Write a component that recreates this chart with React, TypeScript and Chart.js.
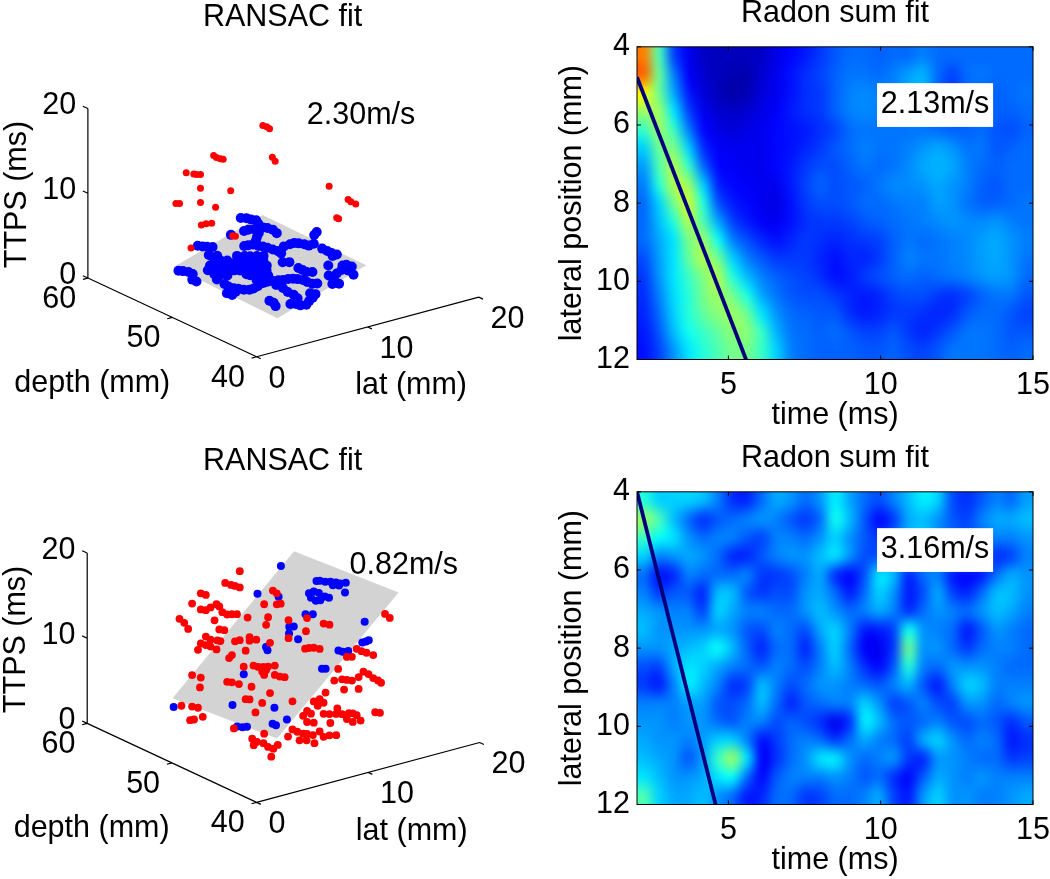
import React, { useEffect, useRef } from "react";
import { Chart, registerables } from "chart.js";
Chart.register(...registerables);

// [lat mm, depth mm, TTPS ms]
type P3 = number[];
const redTop: P3[] = [[7.7,49.4,20.2],[7.9,49.2,20.1],[8.0,49.0,19.9],[8.1,48.8,16.6],[8.2,48.6,16.2],[5.7,52.6,15.9],[5.8,52.4,15.7],[6.0,52.2,15.6],[6.1,52.0,15.6],[4.6,54.4,13.4],[4.9,53.9,13.4],[5.0,53.7,13.4],[5.2,53.5,13.4],[5.2,53.5,11.8],[6.4,51.5,12.0],[5.2,53.5,10.1],[5.8,52.5,9.8],[4.2,55.1,9.6],[4.3,54.8,9.7],[5.2,53.4,7.5],[5.4,53.1,7.7],[5.6,52.7,7.9],[10.4,45.1,14.1],[11.2,43.9,12.8],[11.3,43.7,12.6],[11.5,43.4,12.4],[10.7,44.6,10.5],[10.8,44.5,10.4],[6.5,51.4,6.7],[6.6,51.2,6.7],[4.8,54.1,4.6]];
const blueTop: P3[] = [[10.8,56.1,5.1],[11.0,55.7,5.2],[11.1,55.3,5.2],[11.2,54.8,5.3],[11.0,54.3,5.2],[10.9,53.6,5.1],[11.0,53.2,5.2],[11.1,52.7,5.2],[11.0,52.1,5.1],[9.8,54.4,4.7],[10.1,54.3,4.8],[10.4,54.0,4.9],[10.3,53.3,4.8],[9.9,53.0,4.6],[9.0,54.9,4.3],[6.7,55.8,3.4],[6.9,55.5,3.4],[7.0,55.1,3.5],[7.2,54.7,3.6],[6.4,54.1,3.2],[8.6,52.8,4.1],[8.8,52.6,4.2],[9.1,52.4,4.3],[9.2,51.9,4.3],[9.3,51.5,4.4],[9.4,51.1,4.4],[9.5,50.6,4.4],[9.6,50.1,4.4],[9.5,49.6,4.4],[9.5,52.6,4.5],[10.2,50.2,4.7],[10.6,50.0,4.9],[10.9,49.9,5.0],[11.0,49.5,5.1],[11.2,49.1,5.1],[11.3,48.7,5.1],[11.6,48.5,5.3],[12.4,49.5,5.6],[12.7,49.6,5.8],[11.6,47.5,5.2],[11.6,46.9,5.2],[11.6,46.4,5.2],[11.7,45.9,5.2],[11.4,46.0,5.1],[6.2,53.2,3.1],[6.4,52.7,3.2],[6.7,52.3,3.3],[7.1,51.7,3.4],[7.4,51.2,3.5],[7.6,50.8,3.6],[7.9,50.4,3.7],[8.2,50.0,3.8],[5.6,52.9,2.8],[5.8,52.5,2.9],[6.1,52.1,3.0],[6.4,51.7,3.1],[6.6,51.2,3.2],[6.9,50.8,3.3],[7.2,50.4,3.4],[7.4,50.0,3.5],[7.7,49.5,3.6],[7.9,49.2,3.7],[5.1,52.5,2.6],[5.4,52.1,2.7],[5.6,51.7,2.8],[5.9,51.2,2.9],[6.2,50.8,3.0],[6.4,50.4,3.1],[6.7,50.0,3.2],[7.0,49.5,3.3],[7.2,49.1,3.4],[7.5,48.7,3.5],[6.4,49.2,3.1],[6.7,48.8,3.2],[7.0,48.4,3.3],[7.2,48.1,3.3],[6.3,48.3,3.0],[6.6,47.8,3.1],[8.8,48.5,4.1],[9.1,48.1,4.2],[9.0,46.9,4.1],[9.0,46.4,4.1],[9.0,45.9,4.1],[9.2,45.5,4.2],[10.4,45.2,4.7],[11.0,44.3,4.9],[11.2,44.1,5.0],[11.3,43.6,5.0],[10.8,43.4,4.8],[10.6,43.9,4.7],[10.1,43.8,4.5],[9.7,43.6,4.3],[9.6,44.1,4.3],[9.1,43.0,4.0],[9.4,42.6,4.1],[10.7,42.6,4.7],[3.9,54.4,2.1],[4.0,54.0,2.2],[4.2,53.6,2.2],[4.2,53.1,2.2],[3.7,52.5,2.0],[3.7,52.0,2.0],[4.7,50.9,2.4],[4.7,50.0,2.3],[4.6,49.4,2.3],[4.7,48.9,2.3],[4.8,48.5,2.4],[5.0,48.1,2.4],[5.2,47.7,2.5],[5.5,47.6,2.6],[5.8,47.5,2.8],[6.3,47.5,3.0],[6.6,47.4,3.1],[6.9,47.1,3.2],[7.2,46.9,3.3],[7.4,46.6,3.4],[7.7,46.4,3.5],[7.9,46.1,3.6],[8.0,45.7,3.7],[8.2,45.3,3.7],[8.2,44.8,3.7],[8.3,44.3,3.7],[8.5,44.0,3.8],[6.7,46.5,3.1],[4.0,48.8,2.0],[4.1,48.3,2.0],[4.5,48.4,2.2],[6.7,45.7,3.1],[6.6,45.0,3.0],[6.6,44.3,3.0],[6.5,43.7,2.9],[7.4,43.4,3.3],[7.5,42.9,3.4],[7.1,42.7,3.2],[6.7,42.6,3.0],[6.3,42.4,2.8],[6.0,42.7,2.7],[5.9,43.1,2.7],[5.7,43.5,2.6],[5.1,45.2,2.4],[5.1,44.7,2.4],[4.9,44.2,2.3],[7.5,52.2,3.6],[7.8,51.7,3.7],[8.0,51.3,3.8],[8.3,50.9,3.9],[8.6,50.5,4.0],[6.7,53.5,3.3],[5.0,51.6,2.6],[5.2,51.2,2.6],[5.5,50.7,2.7],[6.3,49.5,3.1]];
const blueBottom: P3[] = [[3.5,54.4,3.3],[4.9,49.3,5.4],[6.9,50.6,7.7],[5.7,45.4,6.6],[5.3,43.4,6.3],[4.7,44.3,5.6],[4.7,43.9,5.6],[3.9,46.8,4.3],[4.0,46.4,4.5],[3.8,47.3,4.2],[8.9,50.6,10.2],[8.8,50.3,10.0],[12.0,53.2,13.8],[11.7,55.3,13.3],[13.8,55.3,15.8],[13.8,51.1,16.0],[13.8,50.7,16.2],[13.9,50.2,16.3],[14.0,49.7,16.5],[14.1,49.2,16.6],[14.1,48.7,16.7],[14.3,48.3,16.9],[13.9,49.3,16.3],[14.0,48.7,16.5],[12.9,50.8,15.0],[13.1,50.5,15.3],[13.1,49.9,15.4],[12.7,50.3,14.8],[12.6,49.6,14.8],[12.7,49.2,15.0],[13.1,49.2,15.3],[13.1,48.7,15.4],[13.7,47.6,16.3],[11.6,49.5,13.6],[11.8,48.9,13.8],[10.6,50.1,12.2],[10.7,49.7,12.4],[10.2,49.6,11.8],[10.1,48.4,11.7],[12.5,43.7,15.1],[11.3,42.4,13.7],[11.4,42.1,13.9],[11.5,41.9,14.1],[10.3,43.9,12.4],[10.3,43.4,12.5],[10.5,43.0,12.7],[8.9,44.0,10.7],[9.0,43.7,10.8]];
const redBottom: P3[] = [[7.3,51.6,19.2],[6.6,52.4,17.7],[6.9,52.1,17.5],[7.1,51.9,17.4],[7.3,51.6,17.3],[5.4,53.7,16.3],[5.7,53.5,16.1],[5.0,54.2,15.0],[5.4,53.7,14.4],[5.7,53.5,14.3],[5.9,53.2,14.7],[6.2,52.9,15.1],[6.3,52.7,14.9],[6.5,52.6,14.2],[6.7,52.3,14.0],[6.9,52.0,14.1],[7.2,51.8,14.1],[6.1,53.0,13.2],[4.4,54.9,13.1],[4.6,54.6,12.7],[4.8,54.4,12.0],[6.3,52.7,12.2],[6.6,52.5,12.1],[7.7,51.2,13.8],[8.7,50.1,14.0],[8.6,50.2,13.1],[8.5,50.3,15.5],[9.1,49.6,15.6],[9.3,49.4,15.7],[8.9,49.8,17.2],[9.1,49.6,16.9],[9.7,49.0,13.8],[10.6,48.0,14.2],[11.4,47.1,13.7],[11.7,46.8,13.6],[10.5,48.0,12.7],[5.7,53.5,11.2],[5.9,53.2,10.9],[6.2,52.8,10.9],[5.4,53.7,10.4],[5.7,53.5,10.2],[5.9,53.2,10.1],[6.2,52.9,9.8],[6.4,52.7,10.8],[7.1,51.9,10.9],[7.3,51.6,11.1],[7.8,51.1,11.5],[7.8,51.1,11.1],[8.1,50.7,11.3],[8.8,50.0,11.0],[9.7,49.0,11.7],[7.6,51.3,9.9],[6.9,52.0,9.3],[6.8,52.2,8.9],[10.5,48.1,10.6],[10.7,47.9,10.7],[10.9,47.6,10.8],[11.2,47.3,10.7],[8.0,50.9,8.2],[8.2,50.6,8.1],[8.5,50.4,8.1],[8.7,50.1,8.2],[9.0,49.7,8.4],[8.4,50.4,7.6],[8.6,50.2,7.8],[8.5,50.3,7.2],[7.5,51.4,8.0],[5.0,54.2,6.6],[5.3,53.9,9.6],[5.4,53.7,6.4],[5.4,53.8,5.2],[6.7,52.3,6.1],[6.9,52.0,6.1],[7.3,51.7,5.9],[7.9,51.0,5.7],[9.0,49.7,7.3],[9.3,49.5,7.1],[9.5,49.2,7.1],[8.8,50.0,5.1],[7.6,51.3,4.2],[7.8,51.1,4.2],[8.4,50.4,3.9],[9.9,48.8,4.3],[8.1,50.8,2.7],[14.4,43.8,15.3],[14.6,43.5,14.9],[13.0,45.3,11.0],[13.2,45.0,10.8],[13.5,44.8,10.6],[13.8,44.4,10.4],[12.5,45.8,10.0],[12.8,45.6,10.0],[12.1,46.3,8.5],[13.3,44.9,8.4],[13.6,44.7,8.1],[13.8,44.4,7.7],[14.0,44.1,7.5],[14.2,44.0,7.2],[13.1,45.2,7.7],[11.9,46.5,7.1],[12.3,46.1,7.3],[12.5,45.8,7.3],[12.8,45.6,7.2],[12.4,46.0,6.1],[13.1,45.2,6.3],[11.5,47.0,5.6],[10.9,47.6,4.5],[11.2,47.3,4.8],[11.4,47.1,4.4],[11.1,47.4,4.0],[4.5,54.8,2.9],[5.0,54.2,2.9],[5.3,53.9,2.8],[4.9,54.3,1.3],[5.1,54.1,1.4],[5.5,53.6,1.8],[12.1,46.4,3.8],[11.4,47.1,3.1],[11.7,46.8,3.1],[12.0,46.4,3.2],[12.3,46.1,3.2],[12.6,45.7,3.4],[12.8,45.5,3.4],[13.0,45.3,3.2],[12.5,45.8,2.7],[12.8,45.5,2.4],[13.2,45.1,2.6],[13.9,44.3,3.7],[14.1,44.0,3.7],[10.6,48.0,3.3],[10.8,47.8,3.0],[10.4,48.2,2.7],[10.6,48.0,2.0],[10.9,47.6,2.0],[11.7,46.7,2.1],[9.9,48.8,1.0],[10.1,48.5,0.8],[10.4,48.2,0.6],[10.6,48.0,0.6],[10.9,47.7,0.5],[9.5,48.8,0.3],[9.7,47.7,0.3],[10.1,47.4,0.3],[10.2,46.6,0.3],[11.2,47.3,1.0],[11.4,47.1,0.4],[11.7,46.8,0.6],[12.0,46.4,0.7],[7.0,51.9,0.7],[8.5,50.3,0.3],[7.2,50.0,0.3],[7.1,49.3,0.3],[7.3,48.8,0.3],[7.1,48.0,0.3],[7.2,47.5,0.3],[6.5,48.9,0.3],[7.9,47.9,0.3],[6.1,46.3,0.3]];
const planeTop: P3[] = [[4,42.8,1.84],[12,42.8,5.27],[12,55.1,5.5],[4,55.1,2.18],[4,42.8,1.84]];
const planeBottom: P3[] = [[4,42.85,4.76],[14.9,42.85,18.1],[14.9,55.2,17.2],[4,55.2,3.78],[4,42.85,4.76]];
const latTicks = [0, 10, 20];
const depthTicks = [40, 50, 60];
const ttpsTicks = [0, 10, 20];

const heatTop: number[][] = [
[72,42,16,8,4,3,3,3,4,7,10,12,15,18,20,20,19,20,20,22,20,20,20,20,20,20,20],
[75,45,22,9,5,3,2,2,5,8,11,14,16,19,21,21,20,22,25,27,20,16,20,21,20,20,20],
[60,45,26,12,6,3,1,2,6,8,11,14,15,19,22,23,22,22,26,27,19,15,20,20,19,20,21],
[50,50,32,16,8,5,4,5,7,9,12,14,15,19,22,23,22,22,23,23,20,18,20,20,19,19,20],
[40,50,40,22,10,7,6,7,8,10,11,12,14,16,20,21,21,21,21,21,20,19,19,20,18,17,19],
[30,45,47,30,14,9,8,8,8,10,11,13,15,18,20,22,21,21,22,24,26,24,21,21,18,19,20],
[25,42,52,40,20,10,9,8,8,10,12,15,17,17,19,21,20,21,23,26,27,26,22,20,19,20,20],
[22,38,52,50,30,13,10,9,8,8,12,16,19,17,18,19,21,23,23,24,26,24,22,19,18,20,20],
[20,30,46,55,38,18,12,10,8,7,11,15,17,17,18,20,20,21,22,22,25,24,21,19,19,20,21],
[20,28,38,52,42,26,16,12,9,8,11,14,15,15,16,18,19,20,21,22,23,24,23,23,24,22,21],
[20,26,32,46,50,36,22,17,13,11,13,15,14,13,14,15,16,19,21,20,21,22,23,25,26,24,22],
[17,25,32,44,52,46,30,22,18,15,15,15,13,11,13,13,15,19,22,21,21,22,23,25,26,24,21],
[15,24,32,40,47,52,38,28,22,19,17,16,14,11,12,15,17,19,20,19,20,21,22,24,25,24,20],
[14,22,31,38,46,50,46,37,26,21,18,17,17,15,13,12,13,16,17,17,15,14,16,19,21,21,18],
[13,20,30,38,44,48,50,45,32,24,20,19,18,18,14,12,13,15,15,14,13,14,18,20,20,18,16],
[12,18,28,36,40,44,48,48,40,27,21,20,19,20,18,16,16,18,15,13,15,18,21,21,20,18,18],
[11,16,24,32,38,42,46,46,40,30,22,20,19,19,19,18,18,19,17,16,18,21,21,21,20,19,20],
];
const heatBottom: number[][] = [
[38,30,30,30,28,22,14,13,20,26,24,20,24,33,26,20,17,22,28,33,30,17,14,18,22,20,25],
[50,42,28,20,14,18,20,22,24,22,18,15,20,36,28,18,10,15,26,28,24,18,16,22,26,26,28],
[40,35,32,24,20,22,22,18,16,22,22,20,24,30,24,18,15,20,27,30,24,20,18,20,22,22,24],
[30,22,24,26,24,20,13,13,18,22,24,24,28,32,24,17,18,22,24,24,26,22,22,18,14,16,22],
[20,11,13,22,20,20,20,22,15,15,17,22,26,14,10,17,32,28,13,20,22,12,10,12,20,26,24],
[22,15,18,18,13,28,28,18,15,17,17,24,26,20,12,20,30,24,12,17,26,16,13,20,28,28,24],
[26,24,22,22,16,30,26,22,22,20,20,24,28,24,20,22,26,22,14,20,24,22,20,24,28,26,22],
[28,24,24,24,24,26,24,18,17,22,20,17,26,30,22,12,12,16,36,24,22,20,12,18,24,22,20],
[24,24,26,28,30,35,28,19,13,20,20,13,22,30,20,9,8,15,45,24,24,20,15,20,22,22,20],
[17,16,26,32,30,26,22,20,18,22,20,17,22,28,22,14,10,18,38,22,20,24,24,24,22,20,20],
[15,12,22,33,28,22,14,16,28,22,17,20,24,24,22,20,18,22,27,18,12,22,30,28,22,22,22],
[22,22,22,25,25,18,17,20,28,20,13,18,20,22,22,30,24,16,18,22,17,16,24,24,20,22,24],
[24,24,22,24,24,20,18,22,22,17,19,17,14,8,14,33,28,20,18,20,22,18,17,20,18,14,18],
[26,24,24,22,25,30,30,22,11,15,20,22,20,15,20,26,22,20,16,26,30,24,20,22,20,12,14],
[28,26,24,18,25,40,50,32,9,14,20,24,32,33,24,20,22,24,15,13,24,24,22,20,20,15,16],
[32,28,24,24,26,32,35,20,10,18,22,22,22,24,22,18,20,14,10,18,26,24,22,24,22,22,22],
[42,30,26,26,28,24,20,12,13,20,20,15,16,20,20,22,26,16,12,24,30,24,24,22,22,24,26],
];
const fitTop = { time: [2, 5.58], lateral: [4.78, 12] };
const fitBottom = { time: [2, 4.58], lateral: [4, 12] };

const FONT_SIZE = 30.5;
const FONT = `${FONT_SIZE}px 'Liberation Sans'`;
const NAVY = "#00007f";

// fixed view of the 3-D axes box
const project = ([lat, depth, t]: P3) => ({
  x: 256.5 + 11.325 * lat - 8.6 * (depth - 40),
  y: 360 - 3.05 * lat - 4.025 * (depth - 40) - 8.675 * t,
});

function jet(v: number): number[] {
  const c = (x: number) => Math.max(0, Math.min(1, x));
  return [c(Math.min(4 * v - 1.5, -4 * v + 4.5)), c(Math.min(4 * v - 0.5, -4 * v + 3.5)), c(Math.min(4 * v + 0.5, -4 * v + 2.5))].map((a) => Math.round(a * 255));
}

function axes3d(): any[] {
  const out: any[] = [];
  const seg = (a: P3, b: P3) => out.push(project(a), project(b), { x: NaN, y: NaN });
  seg([0, 60, 0], [0, 60, 20]);
  seg([0, 60, 0], [0, 40, 0]);
  seg([0, 40, 0], [20, 40, 0]);
  ttpsTicks.forEach((t) => seg([0, 60, t], [0, 60.6, t]));
  depthTicks.forEach((d) => seg([0, d, 0], [-0.45, d, 0]));
  latTicks.forEach((l) => seg([l, 40, 0], [l, 39.5, 0]));
  return out;
}

function make3d(canvas: HTMLCanvasElement, red: P3[], blue: P3[], plane: P3[], speed: string, speedPos: number[], redR: number, blueR: number) {
  const text3d = {
    id: "text3d",
    afterDraw(chart: any) {
      const { ctx, scales } = chart;
      const X = (v: number) => scales.x.getPixelForValue(v);
      const Y = (v: number) => scales.y.getPixelForValue(v);
      const put = (s: string, x: number, y: number, align: CanvasTextAlign = "center") => {
        ctx.textAlign = align;
        ctx.fillText(s, X(x), Y(y));
      };
      ctx.save();
      ctx.font = FONT;
      ctx.fillStyle = "#000";
      ctx.textBaseline = "middle";
      put("RANSAC fit", 283, 13);
      put(speed, speedPos[0], speedPos[1]);
      ttpsTicks.forEach((t) => { const p = project([0, 60, t]); put(String(t), p.x - 12, p.y - 3, "right"); });
      depthTicks.forEach((d) => { const p = project([0, d, 0]); put(String(d), p.x - 12, p.y + 22, "right"); });
      latTicks.forEach((l) => { const p = project([l, 40, 0]); put(String(l), p.x + 12, p.y + 23, "left"); });
      put("depth (mm)", 89, 387);
      put("lat (mm)", 414, 390);
      ctx.save();
      ctx.translate(X(13), Y(194));
      ctx.rotate(-Math.PI / 2);
      ctx.textAlign = "center";
      ctx.fillText("TTPS (ms)", 0, 0);
      ctx.restore();
      ctx.restore();
    },
  };
  return new Chart(canvas, {
    type: "scatter",
    data: {
      datasets: [
        { data: red.map(project), backgroundColor: "#ff0000", borderWidth: 0, pointRadius: redR },
        { data: blue.map(project), backgroundColor: "#0000ff", borderWidth: 0, pointRadius: blueR },
        { data: plane.map(project), showLine: true, fill: "shape", backgroundColor: "#d3d3d3", borderWidth: 0, borderColor: "#d3d3d3", pointRadius: 0 },
        { data: axes3d(), showLine: true, spanGaps: false, borderColor: "#000", borderWidth: 1.2, pointRadius: 0 },
      ] as any,
    },
    options: {
      animation: false,
      responsive: false,
      layout: { padding: 0 },
      plugins: { legend: { display: false }, tooltip: { enabled: false } },
      scales: {
        x: { type: "linear", min: 0, max: 525, display: false },
        y: { type: "linear", min: 0, max: 435, reverse: true, display: false },
      },
    },
    plugins: [text3d],
  } as any);
}

function makeHeat(canvas: HTMLCanvasElement, grid: number[][], fit: { time: number[]; lateral: number[] }, speed: string) {
  const heat = {
    id: "heat",
    beforeDatasetsDraw(chart: any) {
      const { ctx, scales } = chart;
      const rows = grid.length, cols = grid[0].length;
      const off = document.createElement("canvas");
      off.width = cols; off.height = rows;
      const oc = off.getContext("2d")!;
      const img = oc.createImageData(cols, rows);
      grid.forEach((row, r) => row.forEach((v, c) => {
        const [R, G, B] = jet((v + 3) / 100);
        const i = (r * cols + c) * 4;
        img.data[i] = R; img.data[i + 1] = G; img.data[i + 2] = B; img.data[i + 3] = 255;
      }));
      oc.putImageData(img, 0, 0);
      ctx.save();
      ctx.imageSmoothingEnabled = true;
      ctx.imageSmoothingQuality = "high";
      const x0 = scales.x.getPixelForValue(2), x1 = scales.x.getPixelForValue(15);
      const y0 = scales.y.getPixelForValue(4), y1 = scales.y.getPixelForValue(12);
      ctx.drawImage(off, x0, y0, x1 - x0, y1 - y0);
      ctx.restore();
    },
    afterDatasetsDraw(chart: any) {
      const { ctx, scales, chartArea: a } = chart;
      ctx.save();
      ctx.strokeStyle = "#000";
      ctx.lineWidth = 1;
      ctx.strokeRect(a.left, a.top, a.right - a.left, a.bottom - a.top);
      ctx.beginPath();
      scales.x.ticks.forEach((t: any) => {
        const x = scales.x.getPixelForValue(t.value);
        ctx.moveTo(x, a.top); ctx.lineTo(x, a.top + 4);
        ctx.moveTo(x, a.bottom); ctx.lineTo(x, a.bottom - 4);
      });
      scales.y.ticks.forEach((t: any) => {
        const y = scales.y.getPixelForValue(t.value);
        ctx.moveTo(a.left, y); ctx.lineTo(a.left + 4, y);
        ctx.moveTo(a.right, y); ctx.lineTo(a.right - 4, y);
      });
      ctx.stroke();
      const bx0 = scales.x.getPixelForValue(9.88), bx1 = scales.x.getPixelForValue(13.69);
      const by0 = scales.y.getPixelForValue(4.93), by1 = scales.y.getPixelForValue(6.05);
      ctx.fillStyle = "#fff";
      ctx.fillRect(bx0, by0, bx1 - bx0, by1 - by0);
      ctx.fillStyle = "#000";
      ctx.font = FONT;
      ctx.textAlign = "center";
      ctx.textBaseline = "middle";
      ctx.fillText(speed, (bx0 + bx1) / 2, (by0 + by1) / 2);
      ctx.restore();
    },
  };
  const font = { family: "'Liberation Sans'", size: FONT_SIZE };
  return new Chart(canvas, {
    type: "scatter",
    data: {
      datasets: [{
        data: fit.time.map((t, i) => ({ x: t, y: fit.lateral[i] })),
        showLine: true, borderColor: NAVY, borderWidth: 3.8, pointRadius: 0,
      }],
    },
    options: {
      animation: false,
      responsive: false,
      layout: { padding: { right: 17, left: 0, top: 0, bottom: 0 } },
      plugins: {
        legend: { display: false },
        tooltip: { enabled: false },
        title: { display: true, fullSize: false, text: "Radon sum fit", color: "#000", font: { ...font, weight: "normal", lineHeight: 26 / FONT_SIZE }, padding: { top: 1, bottom: 19.8 } },
      },
      scales: {
        x: {
          type: "linear", min: 2, max: 15,
          afterBuildTicks: (s: any) => { s.ticks = [5, 10, 15].map((value) => ({ value })); },
          afterFit: (s: any) => { s.height = 80.5; s.paddingRight = 0; s.paddingLeft = 0; },
          grid: { display: false, drawTicks: false },
          border: { display: false },
          ticks: { color: "#000", font, padding: 8, maxRotation: 0, autoSkip: false },
          title: { display: true, text: "time (ms)", color: "#000", font, padding: { top: 0, bottom: 6 } },
        },
        y: {
          type: "linear", min: 4, max: 12, reverse: true,
          afterFit: (s: any) => { s.width = 112; s.paddingTop = 0; s.paddingBottom = 0; },
          grid: { display: false, drawTicks: false },
          border: { display: false },
          ticks: { color: "#000", font, padding: 7, stepSize: 2 },
          title: { display: true, text: "lateral position (mm)", color: "#000", font, padding: { top: 29, bottom: 0 } },
        },
      },
    },
    plugins: [heat],
  } as any);
}

const boxStyle = (left: number, top: number): React.CSSProperties => ({ position: "absolute", left, top });

export default function App() {
  const a = useRef<HTMLCanvasElement>(null);
  const b = useRef<HTMLCanvasElement>(null);
  const c = useRef<HTMLCanvasElement>(null);
  const d = useRef<HTMLCanvasElement>(null);
  useEffect(() => {
    const charts = [
      make3d(a.current!, redTop, blueTop, planeTop, "2.30m/s", [363, 113], 3.5, 5),
      makeHeat(b.current!, heatTop, fitTop, "2.13m/s"),
      make3d(c.current!, redBottom, blueBottom, planeBottom, "0.82m/s", [406, 119], 3.9, 4),
      makeHeat(d.current!, heatBottom, fitBottom, "3.16m/s"),
    ];
    return () => charts.forEach((ch) => ch.destroy());
  }, []);
  return (
    <div style={{ position: "absolute", left: 0, top: 0, width: 1050, height: 879, overflow: "hidden", background: "#fff" }}>
      <canvas ref={a} width={525} height={435} style={boxStyle(0, 0)} />
      <canvas ref={b} width={525} height={440} style={boxStyle(525, 0)} />
      <canvas ref={c} width={525} height={435} style={boxStyle(0, 445)} />
      <canvas ref={d} width={525} height={440} style={boxStyle(525, 445)} />
    </div>
  );
}
